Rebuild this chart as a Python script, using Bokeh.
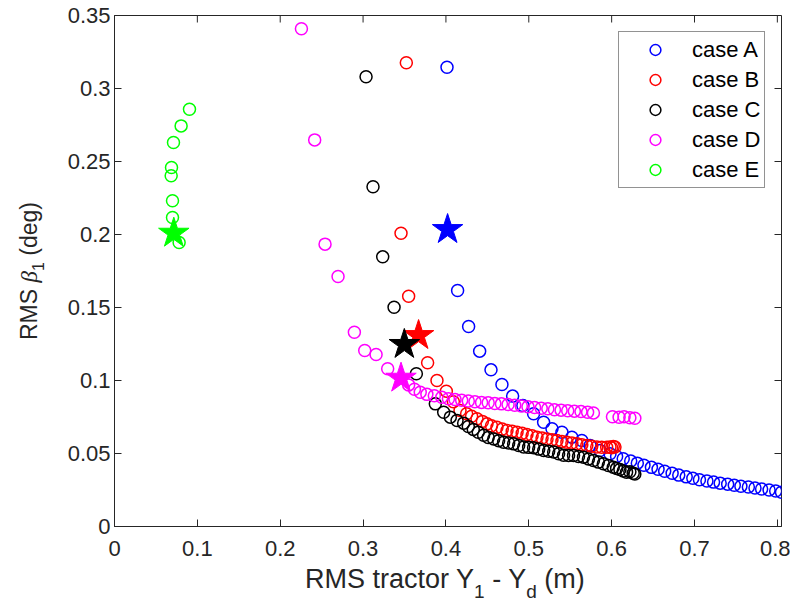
from bokeh.plotting import figure
from bokeh.models import Range1d, FixedTicker, Legend, LegendItem, Div
from bokeh.layouts import row, column
from bokeh.embed import file_html
from bokeh.resources import INLINE

# ---------------- data ----------------
a_x = [0.4013, 0.4141, 0.4274, 0.4407, 0.4544, 0.4676, 0.4805, 0.4929, 0.5058, 0.5179,
       0.5280, 0.5400, 0.5520, 0.5640, 0.5740, 0.5860, 0.5980, 0.6060, 0.614, 0.623,
       0.631, 0.639, 0.648, 0.656, 0.664, 0.673, 0.681, 0.690, 0.698, 0.706,
       0.715, 0.723, 0.731, 0.740, 0.748, 0.756, 0.765, 0.773, 0.781, 0.790, 0.798, 0.805]
a_y = [0.3146, 0.1616, 0.1370, 0.1201, 0.1073, 0.0973, 0.0893, 0.0829, 0.0772, 0.0714,
       0.0669, 0.0646, 0.0612, 0.0589, 0.0555, 0.0520, 0.0498, 0.0480, 0.0464, 0.0449,
       0.0434, 0.0420, 0.0405, 0.0392, 0.0378, 0.0365, 0.0352, 0.0340, 0.0330, 0.0320,
       0.0312, 0.0304, 0.0297, 0.0290, 0.0283, 0.0276, 0.0270, 0.0264, 0.0257, 0.0250, 0.0243, 0.0235]

b_x = [0.3522, 0.3458, 0.3550, 0.3779, 0.3892, 0.4005,
       0.409, 0.417, 0.425, 0.431, 0.4375, 0.444, 0.4496, 0.455, 0.4616, 0.468,
       0.4737, 0.480, 0.4858, 0.492, 0.4978, 0.504, 0.5099, 0.516, 0.522, 0.528,
       0.534, 0.540, 0.546, 0.552, 0.558, 0.564, 0.570, 0.576, 0.582, 0.588,
       0.594, 0.598, 0.602, 0.600, 0.604]
b_y = [0.3176, 0.2009, 0.1577, 0.1121, 0.1000, 0.0927,
       0.0855, 0.0795, 0.0772, 0.0755, 0.0738, 0.0720, 0.0703, 0.0690, 0.0680, 0.0668,
       0.0658, 0.0652, 0.0646, 0.0638, 0.0630, 0.0621, 0.0612, 0.0606, 0.0600, 0.0594,
       0.0589, 0.0583, 0.0577, 0.0572, 0.0566, 0.0560, 0.0555, 0.0550, 0.0545, 0.0543,
       0.0543, 0.0545, 0.0548, 0.0540, 0.0545]

c_x = [0.3036, 0.3120, 0.3237, 0.3374, 0.3643,
       0.3872, 0.3973, 0.4053, 0.4134, 0.4214, 0.427, 0.433, 0.439, 0.4455, 0.451,
       0.4576, 0.4636, 0.4696, 0.4757, 0.4817, 0.4878, 0.4938, 0.4998, 0.5058, 0.512,
       0.518, 0.524, 0.530, 0.536, 0.542, 0.548, 0.554, 0.560, 0.566, 0.572,
       0.578, 0.584, 0.590, 0.596, 0.602, 0.606, 0.610, 0.614, 0.618, 0.622, 0.626, 0.628]
c_y = [0.3080, 0.2327, 0.1847, 0.1502, 0.1046,
       0.0840, 0.0783, 0.0749, 0.0726, 0.0708, 0.0685, 0.0665, 0.0645, 0.0625, 0.0610,
       0.0600, 0.0588, 0.0577, 0.0572, 0.0566, 0.0555, 0.0545, 0.0542, 0.0540, 0.0530,
       0.0520, 0.0515, 0.0510, 0.0498, 0.0488, 0.0487, 0.0486, 0.0480, 0.0475, 0.0463,
       0.0452, 0.0441, 0.0430, 0.0418, 0.0406, 0.0398, 0.0390, 0.0380, 0.0372, 0.0375, 0.0365, 0.0360]

d_x = [0.2256, 0.2416, 0.2541, 0.2698, 0.2895, 0.3020, 0.3157, 0.3297,
       0.355, 0.362, 0.369, 0.377, 0.386, 0.395, 0.403, 0.411, 0.419, 0.427,
       0.435, 0.443, 0.451, 0.459, 0.467, 0.475, 0.483, 0.491, 0.499, 0.507,
       0.515, 0.523, 0.531, 0.539, 0.547, 0.555, 0.563, 0.571, 0.578,
       0.601, 0.609, 0.615, 0.622, 0.628]
d_y = [0.3409, 0.2648, 0.1934, 0.1712, 0.1331, 0.1205, 0.1178, 0.1080,
       0.0970, 0.0940, 0.0920, 0.0905, 0.0895, 0.0885, 0.0875, 0.0870, 0.0865, 0.0860,
       0.0855, 0.0850, 0.0848, 0.0843, 0.0840, 0.0836, 0.0830, 0.0825, 0.0820, 0.0815,
       0.0810, 0.0806, 0.0800, 0.0797, 0.0793, 0.0790, 0.0787, 0.0783, 0.0778,
       0.0752, 0.0748, 0.0752, 0.0745, 0.0742]

e_x = [0.0905, 0.0804, 0.0712, 0.0688, 0.0684, 0.0700, 0.0700, 0.0780]
e_y = [0.2858, 0.2744, 0.2630, 0.2459, 0.2402, 0.2231, 0.2116, 0.1945]

star_x = [0.402, 0.367, 0.3498, 0.3458, 0.0716]
star_y = [0.2034, 0.1308, 0.1247, 0.1016, 0.2009]

case_names = ["case A", "case B", "case C", "case D", "case E"]
case_colors = ["#0000ff", "#ff0000", "#000000", "#ff00ff", "#00ff00"]

x_ticks = [0, 0.1, 0.2, 0.3, 0.4, 0.5, 0.6, 0.7, 0.8]
x_tick_labels = ["0", "0.1", "0.2", "0.3", "0.4", "0.5", "0.6", "0.7", "0.8"]
y_ticks = [0, 0.05, 0.1, 0.15, 0.2, 0.25, 0.3, 0.35]
y_tick_labels = ["0", "0.05", "0.1", "0.15", "0.2", "0.25", "0.3", "0.35"]

X_MAX = 0.805
Y_MAX = 0.35

# ---------------- layout ----------------
WL = 50            # width of the left strip holding the y title
PW, PH = 740, 568  # figure size
ML, MR, MT, MB = 64, 9, 15, 42
FW = PW - ML - MR  # 667
FH = PH - MT - MB  # 511
XH = 42            # height of strip holding x title
AX = "#262626"
FONT = "Liberation Sans"
TICK = 7

p = figure(width=PW, height=PH, output_backend="svg", toolbar_location=None,
           x_range=Range1d(0, X_MAX), y_range=Range1d(0, Y_MAX),
           min_border_left=ML, min_border_right=MR, min_border_top=MT, min_border_bottom=MB,
           background_fill_color="white", border_fill_color="white")
p.outline_line_color = AX
p.outline_line_width = 1
p.xgrid.visible = False
p.ygrid.visible = False


def style_axis(ax, ticks, labels, standoff):
    ax.ticker = FixedTicker(ticks=ticks)
    ax.major_label_overrides = {t: l for t, l in zip(ticks, labels)}
    ax.axis_line_color = AX
    ax.axis_line_width = 1
    ax.major_tick_line_color = AX
    ax.major_tick_in = TICK
    ax.major_tick_out = 0
    ax.minor_tick_in = 0
    ax.minor_tick_out = 0
    ax.minor_tick_line_color = None
    ax.major_label_text_font = FONT
    ax.major_label_text_color = AX
    ax.major_label_text_font_size = "22px"
    ax.major_label_standoff = standoff


style_axis(p.xaxis[0], x_ticks, x_tick_labels, 14)
style_axis(p.yaxis[0], y_ticks, y_tick_labels, 4)

# inward ticks on the top and right edges of the box (from the tick lists)
tlx = TICK * X_MAX / FW
tly = TICK * Y_MAX / FH
p.segment(x0=x_ticks, y0=[Y_MAX] * len(x_ticks), x1=x_ticks, y1=[Y_MAX - tly] * len(x_ticks),
          line_color=AX, line_width=1)
p.segment(x0=[X_MAX] * len(y_ticks), y0=y_ticks, x1=[X_MAX - tlx] * len(y_ticks), y1=y_ticks,
          line_color=AX, line_width=1)

# ---------------- data marks ----------------
series = [(a_x, a_y), (b_x, b_y), (c_x, c_y), (d_x, d_y), (e_x, e_y)]
items = []
for (xs, ys), name, col in zip(series, case_names, case_colors):
    r = p.scatter(xs, ys, marker="circle", size=12, fill_color=None,
                  line_color=col, line_width=1.5)
    items.append(LegendItem(label=name, renderers=[r]))

for sx, sy, col in zip(star_x, star_y, case_colors):
    p.scatter([sx], [sy], marker="star", size=32, fill_color=col, line_color=col, line_width=1)

legend = Legend(items=items, location=(FW - 163, FH - 18 - 155),
                label_text_font=FONT, label_text_font_size="22px", label_text_color="#000000",
                glyph_width=64, glyph_height=27, label_height=27, label_standoff=5,
                spacing=3, padding=4, margin=0,
                border_line_color=AX, border_line_width=1,
                background_fill_color="white", background_fill_alpha=1.0)
p.add_layout(legend)

# ---------------- axis titles as HTML text ----------------
sub_x = "font-size:19px;position:relative;top:10px;"
xtitle = Div(width=PW, height=XH, margin=(0, 0, 0, 0), text=(
    f'<div style="position:relative;width:{PW}px;height:{XH}px;">'
    f'<div style="position:absolute;left:{305 - WL}px;top:-2px;white-space:nowrap;'
    f'font-family:\'{FONT}\';font-size:27px;line-height:27px;color:{AX};">'
    f'RMS tractor Y<span style="{sub_x}">1</span> - Y<span style="{sub_x}">d</span> (m)'
    f'</div></div>'))

sub_y = "font-size:16px;position:relative;top:7px;"
ytitle = Div(width=WL, height=PH + XH, margin=(0, 0, 0, 0), text=(
    f'<div style="position:relative;width:{WL}px;height:{PH + XH}px;">'
    f'<div style="position:absolute;left:18px;top:340px;white-space:nowrap;'
    f'transform-origin:0 0;transform:rotate(-90deg);'
    f'font-family:\'{FONT}\';font-size:23px;line-height:23px;color:{AX};">'
    f'RMS <span style="font-family:\'Liberation Serif\';font-style:italic;">\u03b2</span>'
    f'<span style="{sub_y}">1</span> (deg)'
    f'</div></div>'))

layout = row(ytitle, column(p, xtitle, spacing=0), spacing=0)

open("out.html", "w").write(file_html(layout, INLINE))
